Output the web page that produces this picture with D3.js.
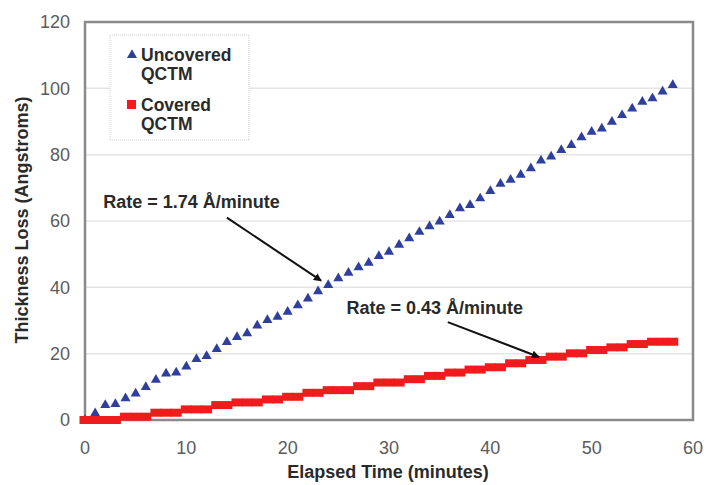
<!DOCTYPE html>
<html lang="en">
<head>
<meta charset="UTF-8">
<title>Thickness Loss vs Elapsed Time</title>
<script src="https://d3js.org/d3.v7.min.js"></script>
<style>
    body { margin: 0; background: #fff; font-family: Arial, "Liberation Sans", sans-serif; }
    .tick-label { font-size: 18px; fill: #5c5c5c; }
    .axis-title { font-size: 18px; font-weight: bold; fill: #2a2a2a; }
    .note { font-size: 18px; font-weight: bold; fill: #2a2a2a; }
    .legend-text { font-size: 17.5px; font-weight: bold; fill: #2a2a2a; }
</style>
</head>
<body>
<svg width="706" height="485"></svg>
<script>
    // elapsed time (minutes), one reading per minute
    const minutes = [0, 1, 2, 3, 4, 5, 6, 7, 8, 9, 10, 11, 12, 13, 14, 15, 16, 17, 18, 19,
        20, 21, 22, 23, 24, 25, 26, 27, 28, 29, 30, 31, 32, 33, 34, 35, 36, 37, 38, 39,
        40, 41, 42, 43, 44, 45, 46, 47, 48, 49, 50, 51, 52, 53, 54, 55, 56, 57, 58];

    // thickness loss (Angstroms)
    const uncovered = [0, 2.0, 4.5, 4.8, 6.5, 8.0, 9.9, 12.1, 14.0, 14.3, 16.1, 18.4, 19.3, 21.4, 23.5, 25.0,
        26.1, 28.5, 30.1, 31.1, 32.6, 34.6, 36.6, 38.8, 40.7, 42.7, 44.4, 46.0, 47.4, 49.4, 50.7,
        52.8, 54.8, 56.7, 58.4, 59.8, 61.8, 63.8, 64.8, 66.8, 69.0, 71.2, 72.4, 73.9, 75.9, 78.2,
        79.4, 81.4, 82.9, 85.2, 86.9, 87.9, 89.9, 91.9, 93.9, 95.9, 97.0, 99.0, 101.0];

    const covered = [0, 0, 0, 0, 1.0, 1.0, 1.0, 2.2, 2.2, 2.2, 3.2, 3.2, 3.2, 4.5, 4.5, 5.3, 5.3, 5.3,
        6.2, 6.2, 7.0, 7.0, 8.2, 8.2, 9.0, 9.0, 9.0, 10.2, 10.2, 11.3, 11.3, 11.3, 12.3, 12.3,
        13.3, 13.3, 14.3, 14.3, 15.2, 15.2, 15.9, 15.9, 17.1, 17.1, 18.1, 18.1, 19.1, 19.1,
        20.1, 20.1, 21.1, 21.1, 21.9, 21.9, 22.9, 22.9, 23.6, 23.6, 23.6];

    const xTicks = [0, 10, 20, 30, 40, 50, 60];
    const yTicks = [0, 20, 40, 60, 80, 100, 120];

    const legendItems = [
        { name: ["Uncovered", "QCTM"], shape: "triangle" },
        { name: ["Covered", "QCTM"], shape: "square" }
    ];

    const notes = [
        { text: "Rate = 1.74 Å/minute", at: [1.8, 64], from: [14, 61], to: [23.3, 42] },
        { text: "Rate = 0.43 Å/minute", at: [25.8, 32], from: [35.8, 29.5], to: [44.8, 19] }
    ];

    const blue = "#2f3f9e", red = "#ee1c1c";

    const svg = d3.select("svg");
    const m = { left: 85, right: 693, top: 22, bottom: 420 };

    const x = d3.scaleLinear().domain([0, 60]).range([m.left, m.right]);
    const y = d3.scaleLinear().domain([0, 120]).range([m.bottom, m.top]);

    // gridlines
    svg.append("g").selectAll("line")
        .data(yTicks.filter(d => d > 0 && d < 120))
        .enter().append("line")
        .attr("x1", m.left).attr("x2", m.right)
        .attr("y1", d => y(d)).attr("y2", d => y(d))
        .attr("stroke", "#e4e4e4").attr("stroke-width", 1.5);

    // plot frame
    svg.append("rect")
        .attr("x", m.left).attr("y", m.top)
        .attr("width", m.right - m.left).attr("height", m.bottom - m.top)
        .attr("fill", "none").attr("stroke", "#8a8a8a").attr("stroke-width", 2.5);

    // tick labels
    svg.append("g").selectAll("text")
        .data(yTicks)
        .enter().append("text")
        .attr("class", "tick-label")
        .attr("x", m.left - 15).attr("y", d => y(d))
        .attr("dy", "0.35em").attr("text-anchor", "end")
        .text(d => d);

    svg.append("g").selectAll("text")
        .data(xTicks)
        .enter().append("text")
        .attr("class", "tick-label")
        .attr("x", d => x(d)).attr("y", m.bottom + 34)
        .attr("text-anchor", "middle")
        .text(d => d);

    // axis titles
    svg.append("text")
        .attr("class", "axis-title")
        .attr("x", 388).attr("y", 478)
        .attr("text-anchor", "middle")
        .text("Elapsed Time (minutes)");

    svg.append("text")
        .attr("class", "axis-title")
        .attr("transform", "translate(28,220) rotate(-90)")
        .attr("text-anchor", "middle")
        .text("Thickness Loss (Angstroms)");

    // series
    const tri = d3.symbol().type(d3.symbolTriangle).size(44);
    svg.append("g").selectAll("path")
        .data(minutes.map((t, i) => [t, uncovered[i]]))
        .enter().append("path")
        .attr("d", tri)
        .attr("transform", d => `translate(${x(d[0])},${y(d[1])})`)
        .attr("fill", blue);

    svg.append("g").selectAll("rect")
        .data(minutes.map((t, i) => [t, covered[i]]))
        .enter().append("rect")
        .attr("x", d => x(d[0]) - 5.5).attr("y", d => y(d[1]) - 4)
        .attr("width", 11).attr("height", 8)
        .attr("fill", red);

    // annotations
    svg.append("defs").append("marker")
        .attr("id", "head")
        .attr("viewBox", "0 0 10 10")
        .attr("refX", 9).attr("refY", 5)
        .attr("markerWidth", 4).attr("markerHeight", 4)
        .attr("orient", "auto")
        .append("path").attr("d", "M0,0 L10,5 L0,10 z").attr("fill", "#111");

    notes.forEach(n => {
        svg.append("text").attr("class", "note")
            .attr("x", x(n.at[0])).attr("y", y(n.at[1]))
            .text(n.text);
        svg.append("line")
            .attr("x1", x(n.from[0])).attr("y1", y(n.from[1]))
            .attr("x2", x(n.to[0])).attr("y2", y(n.to[1]))
            .attr("stroke", "#111").attr("stroke-width", 2)
            .attr("marker-end", "url(#head)");
    });

    // legend
    const legend = svg.append("g").attr("transform", "translate(110,35)");
    legend.append("rect")
        .attr("width", 139).attr("height", 105)
        .attr("fill", "#fff").attr("stroke", "#d0d0d0")
        .attr("stroke-dasharray", "1,1");

    legendItems.forEach((item, i) => {
        const g = legend.append("g").attr("transform", `translate(0,${26 + i * 50})`);
        if (item.shape === "triangle") {
            g.append("path").attr("d", tri).attr("transform", "translate(22,-6)").attr("fill", blue);
        } else {
            g.append("rect").attr("x", 17).attr("y", -11).attr("width", 9).attr("height", 9).attr("fill", red);
        }
        item.name.forEach((line, j) => {
            g.append("text").attr("class", "legend-text")
                .attr("x", 31).attr("y", j * 18.5)
                .text(line);
        });
    });
</script>
</body>
</html>
